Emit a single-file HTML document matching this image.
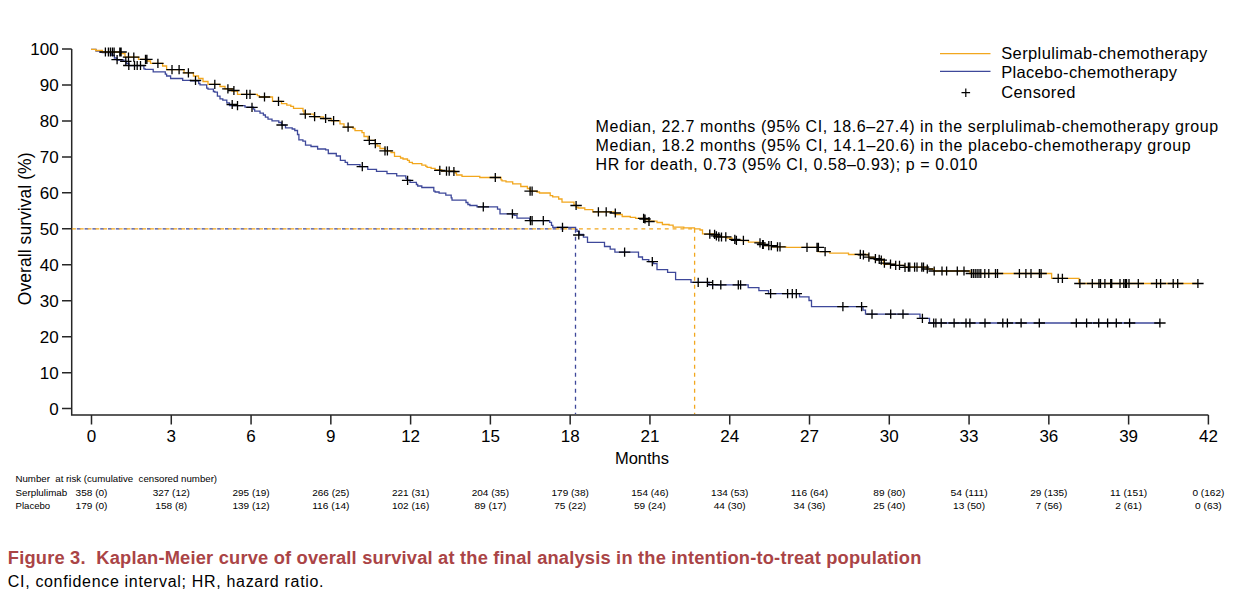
<!DOCTYPE html><html><head><meta charset="utf-8"><style>
html,body{margin:0;padding:0;background:#fff;}
svg{display:block;}
text{font-family:"Liberation Sans",sans-serif;fill:#000;}
</style></head><body>
<svg width="1237" height="598" viewBox="0 0 1237 598">
<rect width="1237" height="598" fill="#fff"/>
<path d="M71.7 49V415H1208.4 M62 49H71.7 M62 84.96H71.7 M62 120.92H71.7 M62 156.88H71.7 M62 192.84H71.7 M62 228.8H71.7 M62 264.76H71.7 M62 300.72H71.7 M62 336.68H71.7 M62 372.64H71.7 M62 408.6H71.7 M91.5 415V424.6 M171.28 415V424.6 M251.06 415V424.6 M330.84 415V424.6 M410.61 415V424.6 M490.39 415V424.6 M570.17 415V424.6 M649.95 415V424.6 M729.73 415V424.6 M809.51 415V424.6 M889.29 415V424.6 M969.06 415V424.6 M1048.84 415V424.6 M1128.62 415V424.6 M1208.4 415V424.6" fill="none" stroke="#262626" stroke-width="1.5"/>
<text x="58.7" y="55" font-size="17" text-anchor="end">100</text>
<text x="58.7" y="90.96" font-size="17" text-anchor="end">90</text>
<text x="58.7" y="126.92" font-size="17" text-anchor="end">80</text>
<text x="58.7" y="162.88" font-size="17" text-anchor="end">70</text>
<text x="58.7" y="198.84" font-size="17" text-anchor="end">60</text>
<text x="58.7" y="234.8" font-size="17" text-anchor="end">50</text>
<text x="58.7" y="270.76" font-size="17" text-anchor="end">40</text>
<text x="58.7" y="306.72" font-size="17" text-anchor="end">30</text>
<text x="58.7" y="342.68" font-size="17" text-anchor="end">20</text>
<text x="58.7" y="378.64" font-size="17" text-anchor="end">10</text>
<text x="58.7" y="414.6" font-size="17" text-anchor="end">0</text>
<text x="91.5" y="442" font-size="17" text-anchor="middle">0</text>
<text x="171.28" y="442" font-size="17" text-anchor="middle">3</text>
<text x="251.06" y="442" font-size="17" text-anchor="middle">6</text>
<text x="330.84" y="442" font-size="17" text-anchor="middle">9</text>
<text x="410.61" y="442" font-size="17" text-anchor="middle">12</text>
<text x="490.39" y="442" font-size="17" text-anchor="middle">15</text>
<text x="570.17" y="442" font-size="17" text-anchor="middle">18</text>
<text x="649.95" y="442" font-size="17" text-anchor="middle">21</text>
<text x="729.73" y="442" font-size="17" text-anchor="middle">24</text>
<text x="809.51" y="442" font-size="17" text-anchor="middle">27</text>
<text x="889.29" y="442" font-size="17" text-anchor="middle">30</text>
<text x="969.06" y="442" font-size="17" text-anchor="middle">33</text>
<text x="1048.84" y="442" font-size="17" text-anchor="middle">36</text>
<text x="1128.62" y="442" font-size="17" text-anchor="middle">39</text>
<text x="1208.4" y="442" font-size="17" text-anchor="middle">42</text>
<text x="642" y="463.7" font-size="16.5" text-anchor="middle">Months</text>
<text transform="translate(30.5 228.8) rotate(-90)" font-size="17.5" text-anchor="middle" textLength="152.7" lengthAdjust="spacing">Overall survival (%)</text>
<path d="M72 228.8H575.5" stroke="#3E489A" stroke-width="1.3" stroke-dasharray="3.7 4.1" stroke-dashoffset="-4.8" fill="none"/>
<path d="M575.5 228.8V414" stroke="#3E489A" stroke-width="1.3" stroke-dasharray="4 4" fill="none"/>
<path d="M72 228.8H694.6" stroke="#F2A71E" stroke-width="1.3" stroke-dasharray="3.9 3.9" fill="none"/>
<path d="M694.6 228.8V414" stroke="#F2A71E" stroke-width="1.3" stroke-dasharray="4 4" fill="none"/>
<path d="M91 49.4 H96 V51.2 H99.7 V52 H102.4 V52.7 H111.8 V55.4 H114.4 V58 H117 V60 H123.8 V61.4 H126.5 V63.5 H129 V65.7 H143.9 V68.8 H145.2 V69.4 H153.2 V71.8 H165.3 V74.1 H166.6 V76 H170.6 V78.5 H182.7 V80.4 H190.7 V80.8 H198.7 V83.5 H200 V84.8 H206.7 V88.2 H208 V89.2 H213.4 V91.5 H214.8 V92.2 H217.4 V96.2 H220 V98.9 H222.8 V100.2 H226.8 V102.9 H229.5 V105.6 H245 V107.1 H253.4 V109.1 H254.7 V111.1 H260 V113.1 H263.4 V115 H265.4 V117.1 H268 V119.1 H272 V120.9 H278.8 V122.5 H281.5 V125.1 H285.5 V127.8 H292.2 V129 H294.8 V130.5 H297.5 V134.5 H298.9 V139.8 H302.9 V141.2 H305.5 V145.2 H311 V146.5 H317.6 V149 H325.6 V149.9 H328.3 V153.5 H336.3 V156 H340.4 V160.4 H345.2 V162.4 H347.5 V164.7 H360 V166.7 H367.8 V169.4 H376.5 V171.4 H387 V173.7 H396.7 V175.8 H405.8 V178.1 H407 V180.1 H410 V182.4 H416.4 V184.5 H417.7 V186 H421.8 V187.5 H433.8 V191.2 H435.1 V192 H439.1 V193.2 H445.8 V195.2 H451.2 V197.8 H452 V200.1 H466 V202.5 H467.9 V204.5 H469.9 V205.5 H477 V206.8 H497.5 V209.2 H500 V213.9 H514 V215.4 H517 V218.1 H529.7 V220.7 H549.7 V222.4 H551.5 V225.4 H552.8 V227.4 H575.6 V229.4 H577 V231.4 H579.4 V234.5 H583.4 V237.2 H587.5 V242.4 H604.5 V246.5 H610.2 V249.2 H614.9 V252.2 H638.5 V257 H642.5 V259.6 H648.8 V261.6 H653.6 V263.6 H657 V269.6 H667.6 V272.3 H675.6 V279.6 H691 V282.3 H709 V284.9 H748.2 V287.6 H758.9 V290.6 H768.5 V293.6 H799.5 V296.9 H809 V300.5 H811.5 V306.7 H863 V310.2 H865.5 V314.2 H920 V318.4 H929.5 V323 H1160" fill="none" stroke="#3E489A" stroke-width="1.3"/>
<path d="M91 49.4 H95.7 V50.5 H102.4 V52 H121 V53.5 H125 V57.1 H138.5 V59.3 H147 V61 H150.5 V63.4 H162.6 V66 H166.6 V69.7 H184 V72.8 H193.4 V76 H198.5 V78.5 H203 V81.5 H208 V84.4 H220 V86.5 H225 V88.8 H232 V91 H237.5 V94.4 H257.4 V95.7 H259.4 V97 H272.5 V101.3 H281.5 V103.7 H286.8 V105.1 H290.8 V106.4 H293.5 V108.4 H303 V111 H304 V114.2 H314 V116.8 H323.5 V118.7 H331.5 V120.9 H340 V123.8 H344 V127.1 H353 V128.5 H355 V130.6 H362 V132.6 H364 V136.5 H368 V140.3 H375.3 V143.7 H377 V146 H380 V148.5 H385 V150.8 H391 V152.5 H394.5 V156.3 H400.5 V158 H403 V159 H407.5 V160.4 H409.3 V162.4 H412.4 V163.7 H421.8 V165.1 H425.8 V166.4 H427.1 V167.4 H431.1 V168.4 H435.1 V169.7 H441.8 V171.1 H455.2 V173 H456.5 V175 H462 V176.4 H479.8 V177.5 H501 V179.8 H502 V180.8 H506 V181.8 H512.7 V183.8 H520.8 V186.5 H527.4 V188.5 H530 V191.2 H537 V192 H539.5 V193 H550.2 V195.7 H552.7 V196.8 H558.7 V199 H562 V202.1 H574 V205.1 H576 V207.1 H578 V208 H584.8 V209.7 H592.8 V211.8 H614.2 V213.8 H615.6 V214.5 H622.2 V216.5 H630.3 V217.4 H635.6 V218.4 H643.6 V219.5 H649 V221.1 H657 V222.5 H662.4 V224.5 H669.1 V225.1 H673.1 V227.1 H683.8 V227.8 H694.5 V228.9 H700 V230 H702.5 V233.8 H714 V235.5 H718 V236.8 H727 V238 H732 V240 H741 V240.6 H748.5 V242.1 H759 V244 H765 V245.7 H773 V246.8 H786 V247.4 H817.7 V251.7 H829.8 V253.2 H848.5 V254.5 H868.4 V257.5 H875 V259.5 H883.5 V264.3 H894 V265.3 H904.5 V267.1 H927 V269 H933.5 V271 H970 V273.5 H1051.6 V278.3 H1079 V283.5 H1198" fill="none" stroke="#F2A71E" stroke-width="1.3"/>
<path d="M111.4 59.7h11.4M117.1 55.1v9.2M120.1 61.4h11.4M125.8 56.8v9.2M123.1 65.5h11.4M128.8 60.9v9.2M128.8 65.5h11.4M134.5 60.9v9.2M131.5 65.5h11.4M137.2 60.9v9.2M134.8 65.5h11.4M140.5 60.9v9.2M189.8 80.5h11.4M195.5 75.9v9.2M226.5 104.5h11.4M232.2 99.9v9.2M231.8 105.6h11.4M237.5 101v9.2M246.3 107.3h11.4M252 102.7v9.2M276.4 125h11.4M282.1 120.4v9.2M356.6 166.7h11.4M362.3 162.1v9.2M401.9 180.3h11.4M407.6 175.7v9.2M477.6 206.8h11.4M483.3 202.2v9.2M506.7 213.9h11.4M512.4 209.3v9.2M524.7 220.7h11.4M530.4 216.1v9.2M526.4 220.7h11.4M532.1 216.1v9.2M537.6 220.7h11.4M543.3 216.1v9.2M556.8 227.4h11.4M562.5 222.8v9.2M573.1 235h11.4M578.8 230.4v9.2M618.9 252.2h11.4M624.6 247.6v9.2M646.6 261.6h11.4M652.3 257v9.2M692.5 282.3h11.4M698.2 277.7v9.2M701.7 282.3h11.4M707.4 277.7v9.2M707 284.6h11.4M712.7 280v9.2M715.1 284.9h11.4M720.8 280.3v9.2M732.6 284.9h11.4M738.3 280.3v9.2M734.9 284.9h11.4M740.6 280.3v9.2M764.9 293.6h11.4M770.6 289v9.2M781.9 293.6h11.4M787.6 289v9.2M786.6 293.6h11.4M792.3 289v9.2M790.6 293.6h11.4M796.3 289v9.2M837.2 306.7h11.4M842.9 302.1v9.2M855.9 306.7h11.4M861.6 302.1v9.2M866.3 314.2h11.4M872 309.6v9.2M885 314.2h11.4M890.7 309.6v9.2M897.3 314.2h11.4M903 309.6v9.2M916.7 318.4h11.4M922.4 313.8v9.2M928 323h11.4M933.7 318.4v9.2M930.2 323h11.4M935.9 318.4v9.2M935.5 323h11.4M941.2 318.4v9.2M948.4 323h11.4M954.1 318.4v9.2M960.3 323h11.4M966 318.4v9.2M964.2 323h11.4M969.9 318.4v9.2M979.3 323h11.4M985 318.4v9.2M997.1 323h11.4M1002.8 318.4v9.2M1001.7 323h11.4M1007.4 318.4v9.2M1015.4 323h11.4M1021.1 318.4v9.2M1033.6 323h11.4M1039.3 318.4v9.2M1070.6 323h11.4M1076.3 318.4v9.2M1080.9 323h11.4M1086.6 318.4v9.2M1093 323h11.4M1098.7 318.4v9.2M1101.9 323h11.4M1107.6 318.4v9.2M1110.6 323h11.4M1116.3 318.4v9.2M1123.9 323h11.4M1129.6 318.4v9.2M1154.2 323h11.4M1159.9 318.4v9.2M99.7 52h11.4M105.4 47.4v9.2M102.7 52h11.4M108.4 47.4v9.2M104.7 52h11.4M110.4 47.4v9.2M106.7 52h11.4M112.4 47.4v9.2M108.4 52h11.4M114.1 47.4v9.2M114.1 52h11.4M119.8 47.4v9.2M115.4 52h11.4M121.1 47.4v9.2M122.8 57.1h11.4M128.5 52.5v9.2M128.1 57.1h11.4M133.8 52.5v9.2M139.8 59.3h11.4M145.5 54.7v9.2M141.2 59.3h11.4M146.9 54.7v9.2M152.2 63.4h11.4M157.9 58.8v9.2M166.3 69.7h11.4M172 65.1v9.2M173.4 69.7h11.4M179.1 65.1v9.2M182.7 72.8h11.4M188.4 68.2v9.2M209.1 84.4h11.4M214.8 79.8v9.2M222.2 88.8h11.4M227.9 84.2v9.2M228.2 90.5h11.4M233.9 85.9v9.2M241 94.4h11.4M246.7 89.8v9.2M244.3 94.4h11.4M250 89.8v9.2M258.8 97h11.4M264.5 92.4v9.2M272.8 101.3h11.4M278.5 96.7v9.2M299.6 114.2h11.4M305.3 109.6v9.2M308.9 116.6h11.4M314.6 112v9.2M319.9 118.5h11.4M325.6 113.9v9.2M327.9 120.7h11.4M333.6 116.1v9.2M342.4 127.1h11.4M348.1 122.5v9.2M363.6 140.3h11.4M369.3 135.7v9.2M369.6 143.7h11.4M375.3 139.1v9.2M379.3 150.8h11.4M385 146.2v9.2M381.7 150.8h11.4M387.4 146.2v9.2M434.1 170.4h11.4M439.8 165.8v9.2M440.8 171.1h11.4M446.5 166.5v9.2M443.5 171.1h11.4M449.2 166.5v9.2M448.2 171.5h11.4M453.9 166.9v9.2M489.6 177.5h11.4M495.3 172.9v9.2M524.4 191.2h11.4M530.1 186.6v9.2M526.4 191.2h11.4M532.1 186.6v9.2M570.4 205.5h11.4M576.1 200.9v9.2M592.7 211.8h11.4M598.4 207.2v9.2M600.5 211.8h11.4M606.2 207.2v9.2M609.6 213h11.4M615.3 208.4v9.2M637.9 218.4h11.4M643.6 213.8v9.2M639.3 219h11.4M645 214.4v9.2M643.3 221.5h11.4M649 216.9v9.2M704.1 234.1h11.4M709.8 229.5v9.2M708.9 234.3h11.4M714.6 229.7v9.2M710.7 235.8h11.4M716.4 231.2v9.2M713.1 236.8h11.4M718.8 232.2v9.2M715.8 237h11.4M721.5 232.4v9.2M720.1 236.8h11.4M725.8 232.2v9.2M729.1 239.4h11.4M734.8 234.8v9.2M730.7 240.3h11.4M736.4 235.7v9.2M737.7 240.4h11.4M743.4 235.8v9.2M754.3 242.8h11.4M760 238.2v9.2M756.9 244.5h11.4M762.6 239.9v9.2M757.6 244.5h11.4M763.3 239.9v9.2M763.1 245.7h11.4M768.8 241.1v9.2M765.6 245.7h11.4M771.3 241.1v9.2M771.8 246.8h11.4M777.5 242.2v9.2M774.3 246.8h11.4M780 242.2v9.2M801.3 247.4h11.4M807 242.8v9.2M811.3 247.4h11.4M817 242.8v9.2M812.7 247.4h11.4M818.4 242.8v9.2M819.4 251.7h11.4M825.1 247.1v9.2M854.6 254.3h11.4M860.3 249.7v9.2M857.7 254.8h11.4M863.4 250.2v9.2M863.2 257.2h11.4M868.9 252.6v9.2M869.7 258.7h11.4M875.4 254.1v9.2M873.5 259.4h11.4M879.2 254.8v9.2M875.6 260.1h11.4M881.3 255.5v9.2M878.7 263.2h11.4M884.4 258.6v9.2M884.8 264.2h11.4M890.5 259.6v9.2M890 265.3h11.4M895.7 260.7v9.2M893.8 265.3h11.4M899.5 260.7v9.2M899.3 267.3h11.4M905 262.7v9.2M902.7 267.1h11.4M908.4 262.5v9.2M904.1 267.1h11.4M909.8 262.5v9.2M908.9 267.1h11.4M914.6 262.5v9.2M911.3 267.1h11.4M917 262.5v9.2M916.1 267.1h11.4M921.8 262.5v9.2M917.8 267.1h11.4M923.5 262.5v9.2M921.6 269h11.4M927.3 264.4v9.2M928.5 271h11.4M934.2 266.4v9.2M936.3 271h11.4M942 266.4v9.2M940.9 271h11.4M946.6 266.4v9.2M951.6 271h11.4M957.3 266.4v9.2M958.3 271h11.4M964 266.4v9.2M965.7 273.5h11.4M971.4 268.9v9.2M967.6 273.5h11.4M973.3 268.9v9.2M969.5 273.5h11.4M975.2 268.9v9.2M971.4 273.5h11.4M977.1 268.9v9.2M973.3 273.5h11.4M979 268.9v9.2M975.1 273.5h11.4M980.8 268.9v9.2M979.1 273.5h11.4M984.8 268.9v9.2M983.1 273.5h11.4M988.8 268.9v9.2M989.8 273.5h11.4M995.5 268.9v9.2M991.8 273.5h11.4M997.5 268.9v9.2M1013.7 273.5h11.4M1019.4 268.9v9.2M1020.2 273.5h11.4M1025.9 268.9v9.2M1025.3 273.5h11.4M1031 268.9v9.2M1033.7 273.5h11.4M1039.4 268.9v9.2M1035.4 273.5h11.4M1041.1 268.9v9.2M1052.5 278.3h11.4M1058.2 273.7v9.2M1056.7 278.3h11.4M1062.4 273.7v9.2M1074.2 283.5h11.4M1079.9 278.9v9.2M1086.6 283.5h11.4M1092.3 278.9v9.2M1093.2 283.5h11.4M1098.9 278.9v9.2M1094.8 283.5h11.4M1100.5 278.9v9.2M1099.2 283.5h11.4M1104.9 278.9v9.2M1105 283.5h11.4M1110.7 278.9v9.2M1106 283.5h11.4M1111.7 278.9v9.2M1114.3 283.5h11.4M1120 278.9v9.2M1118.1 283.5h11.4M1123.8 278.9v9.2M1119.8 283.5h11.4M1125.5 278.9v9.2M1120.8 283.5h11.4M1126.5 278.9v9.2M1123.3 283.5h11.4M1129 278.9v9.2M1132.6 283.5h11.4M1138.3 278.9v9.2M1150.8 283.5h11.4M1156.5 278.9v9.2M1154.9 283.5h11.4M1160.6 278.9v9.2M1167.5 283.5h11.4M1173.2 278.9v9.2M1172 283.5h11.4M1177.7 278.9v9.2M1192.2 283.5h11.4M1197.9 278.9v9.2" fill="none" stroke="#000" stroke-width="1.3"/>
<path d="M940 53.6H990.5" stroke="#F2A71E" stroke-width="1.3"/>
<path d="M940 71.4H990.5" stroke="#3E489A" stroke-width="1.3"/>
<path d="M961.5 92.7h8.6M965.8 88.4v8.6" stroke="#000" stroke-width="1.2" fill="none"/>
<text x="1001.2" y="58.6" font-size="16.5" textLength="206.1" lengthAdjust="spacing">Serplulimab-chemotherapy</text>
<text x="1001.2" y="78.1" font-size="16.5" textLength="175.8" lengthAdjust="spacing">Placebo-chemotherapy</text>
<text x="1001.2" y="97.6" font-size="16.5" textLength="74.3" lengthAdjust="spacing">Censored</text>
<text x="595.6" y="131.9" font-size="16" textLength="622.6" lengthAdjust="spacing">Median, 22.7 months (95% CI, 18.6–27.4) in the serplulimab-chemotherapy group</text>
<text x="595.6" y="151.1" font-size="16" textLength="595" lengthAdjust="spacing">Median, 18.2 months (95% CI, 14.1–20.6) in the placebo-chemotherapy group</text>
<text x="595.6" y="170.3" font-size="16" textLength="381.9" lengthAdjust="spacing">HR for death, 0.73 (95% CI, 0.58–0.93); p = 0.010</text>
<text x="15.5" y="482.1" font-size="9.8" textLength="201.6" lengthAdjust="spacingAndGlyphs" style="white-space:pre">Number  at risk (cumulative  censored number)</text>
<text x="15.5" y="495.9" font-size="9.8" textLength="51.7" lengthAdjust="spacingAndGlyphs">Serplulimab</text>
<text x="15.5" y="508.8" font-size="9.8" textLength="34.7" lengthAdjust="spacingAndGlyphs">Placebo</text>
<text x="91.5" y="495.9" font-size="9.8" text-anchor="middle" textLength="31.91" lengthAdjust="spacingAndGlyphs">358 (0)</text>
<text x="91.5" y="508.8" font-size="9.8" text-anchor="middle" textLength="31.91" lengthAdjust="spacingAndGlyphs">179 (0)</text>
<text x="171.28" y="495.9" font-size="9.8" text-anchor="middle" textLength="37.25" lengthAdjust="spacingAndGlyphs">327 (12)</text>
<text x="171.28" y="508.8" font-size="9.8" text-anchor="middle" textLength="31.91" lengthAdjust="spacingAndGlyphs">158 (8)</text>
<text x="251.06" y="495.9" font-size="9.8" text-anchor="middle" textLength="37.25" lengthAdjust="spacingAndGlyphs">295 (19)</text>
<text x="251.06" y="508.8" font-size="9.8" text-anchor="middle" textLength="37.25" lengthAdjust="spacingAndGlyphs">139 (12)</text>
<text x="330.84" y="495.9" font-size="9.8" text-anchor="middle" textLength="37.25" lengthAdjust="spacingAndGlyphs">266 (25)</text>
<text x="330.84" y="508.8" font-size="9.8" text-anchor="middle" textLength="37.25" lengthAdjust="spacingAndGlyphs">116 (14)</text>
<text x="410.61" y="495.9" font-size="9.8" text-anchor="middle" textLength="37.25" lengthAdjust="spacingAndGlyphs">221 (31)</text>
<text x="410.61" y="508.8" font-size="9.8" text-anchor="middle" textLength="37.25" lengthAdjust="spacingAndGlyphs">102 (16)</text>
<text x="490.39" y="495.9" font-size="9.8" text-anchor="middle" textLength="37.25" lengthAdjust="spacingAndGlyphs">204 (35)</text>
<text x="490.39" y="508.8" font-size="9.8" text-anchor="middle" textLength="31.91" lengthAdjust="spacingAndGlyphs">89 (17)</text>
<text x="570.17" y="495.9" font-size="9.8" text-anchor="middle" textLength="37.25" lengthAdjust="spacingAndGlyphs">179 (38)</text>
<text x="570.17" y="508.8" font-size="9.8" text-anchor="middle" textLength="31.91" lengthAdjust="spacingAndGlyphs">75 (22)</text>
<text x="649.95" y="495.9" font-size="9.8" text-anchor="middle" textLength="37.25" lengthAdjust="spacingAndGlyphs">154 (46)</text>
<text x="649.95" y="508.8" font-size="9.8" text-anchor="middle" textLength="31.91" lengthAdjust="spacingAndGlyphs">59 (24)</text>
<text x="729.73" y="495.9" font-size="9.8" text-anchor="middle" textLength="37.25" lengthAdjust="spacingAndGlyphs">134 (53)</text>
<text x="729.73" y="508.8" font-size="9.8" text-anchor="middle" textLength="31.91" lengthAdjust="spacingAndGlyphs">44 (30)</text>
<text x="809.51" y="495.9" font-size="9.8" text-anchor="middle" textLength="37.25" lengthAdjust="spacingAndGlyphs">116 (64)</text>
<text x="809.51" y="508.8" font-size="9.8" text-anchor="middle" textLength="31.91" lengthAdjust="spacingAndGlyphs">34 (36)</text>
<text x="889.29" y="495.9" font-size="9.8" text-anchor="middle" textLength="31.91" lengthAdjust="spacingAndGlyphs">89 (80)</text>
<text x="889.29" y="508.8" font-size="9.8" text-anchor="middle" textLength="31.91" lengthAdjust="spacingAndGlyphs">25 (40)</text>
<text x="969.06" y="495.9" font-size="9.8" text-anchor="middle" textLength="37.25" lengthAdjust="spacingAndGlyphs">54 (111)</text>
<text x="969.06" y="508.8" font-size="9.8" text-anchor="middle" textLength="31.91" lengthAdjust="spacingAndGlyphs">13 (50)</text>
<text x="1048.84" y="495.9" font-size="9.8" text-anchor="middle" textLength="37.25" lengthAdjust="spacingAndGlyphs">29 (135)</text>
<text x="1048.84" y="508.8" font-size="9.8" text-anchor="middle" textLength="26.58" lengthAdjust="spacingAndGlyphs">7 (56)</text>
<text x="1128.62" y="495.9" font-size="9.8" text-anchor="middle" textLength="37.25" lengthAdjust="spacingAndGlyphs">11 (151)</text>
<text x="1128.62" y="508.8" font-size="9.8" text-anchor="middle" textLength="26.58" lengthAdjust="spacingAndGlyphs">2 (61)</text>
<text x="1208.4" y="495.9" font-size="9.8" text-anchor="middle" textLength="31.91" lengthAdjust="spacingAndGlyphs">0 (162)</text>
<text x="1208.4" y="508.8" font-size="9.8" text-anchor="middle" textLength="26.58" lengthAdjust="spacingAndGlyphs">0 (63)</text>
<text x="7.8" y="563.9" font-size="18.3" font-weight="bold" textLength="913.6" lengthAdjust="spacing" style="fill:#AA4446;white-space:pre">Figure 3.  Kaplan-Meier curve of overall survival at the final analysis in the intention-to-treat population</text>
<text x="7.8" y="586.9" font-size="16" textLength="315.7" lengthAdjust="spacing">CI, confidence interval; HR, hazard ratio.</text>
</svg></body></html>
